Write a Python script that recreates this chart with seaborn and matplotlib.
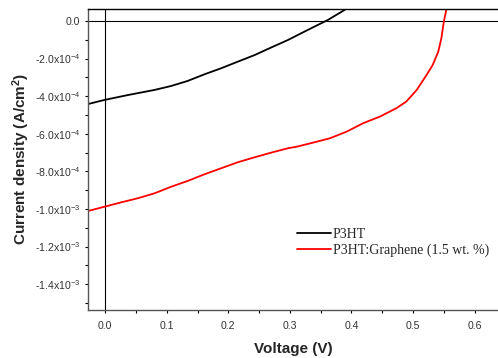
import numpy as np
import pandas as pd
import matplotlib
matplotlib.use("Agg")
import matplotlib.pyplot as plt
import seaborn as sns
from matplotlib.ticker import MultipleLocator, FixedLocator

sns.set_style("white")
plt.rcParams['font.family'] = ['Liberation Sans', 'DejaVu Sans']
plt.rcParams['mathtext.default'] = 'regular'

# Data
v_p3ht = [-0.028, -0.001, 0.037, 0.080, 0.107, 0.134, 0.161, 0.188, 0.215, 0.243,
          0.269, 0.297, 0.324, 0.351, 0.3615, 0.389]
j_p3ht = [-4.42e-4, -4.20e-4, -3.94e-4, -3.67e-4, -3.46e-4, -3.19e-4, -2.84e-4,
          -2.52e-4, -2.17e-4, -1.81e-4, -1.42e-4, -1.01e-4, -5.6e-5, -1.2e-5,
          5.0e-6, 5.9e-5]

v_gr = [-0.028, -0.001, 0.026, 0.053, 0.080, 0.107, 0.134, 0.161, 0.188, 0.215,
        0.243, 0.269, 0.297, 0.311, 0.338, 0.365, 0.392, 0.419, 0.446, 0.473,
        0.489, 0.506, 0.522, 0.532, 0.541, 0.546, 0.550, 0.554]
j_gr = [-1.011e-3, -9.88e-4, -9.65e-4, -9.43e-4, -9.17e-4, -8.82e-4, -8.51e-4,
        -8.16e-4, -7.84e-4, -7.52e-4, -7.25e-4, -7.01e-4, -6.77e-4, -6.69e-4,
        -6.47e-4, -6.24e-4, -5.89e-4, -5.44e-4, -5.09e-4, -4.64e-4, -4.29e-4,
        -3.67e-4, -2.87e-4, -2.34e-4, -1.63e-4, -9.2e-5, -4.0e-6, 5.9e-5]

series_names = ["P3HT", "P3HT:Graphene (1.5 wt. %)"]
y_ticks = [0.0, -2e-4, -4e-4, -6e-4, -8e-4, -1.0e-3, -1.2e-3, -1.4e-3]
y_ticklabels = ["0.0", "-2.0x10$^{-4}$", "-4.0x10$^{-4}$", "-6.0x10$^{-4}$",
                "-8.0x10$^{-4}$", "-1.0x10$^{-3}$", "-1.2x10$^{-3}$", "-1.4x10$^{-3}$"]
x_ticks = [0.0, 0.1, 0.2, 0.3, 0.4, 0.5, 0.6]
x_ticklabels = ["0.0", "0.1", "0.2", "0.3", "0.4", "0.5", "0.6"]

df = pd.concat([
    pd.DataFrame({"V": v_p3ht, "J": j_p3ht, "sample": series_names[0]}),
    pd.DataFrame({"V": v_gr, "J": j_gr, "sample": series_names[1]}),
], ignore_index=True)

fig = plt.figure(figsize=(4.98, 3.58), dpi=100)
ax = fig.add_axes([88/498, 1-309.5/358, 1-88/498, (309.5-9.3)/358])

sns.lineplot(data=df, x="V", y="J", hue="sample", sort=False, estimator=None,
             palette={series_names[0]: "black", series_names[1]: "#ff0000"},
             linewidth=1.3, ax=ax)

ax.axhline(0, color="black", lw=0.8, zorder=0)
ax.axvline(0, color="black", lw=0.8, zorder=0)

ax.set_xlim(-0.028, 0.638)
ax.set_ylim(-1.535e-3, 6.2e-5)

ax.yaxis.set_major_locator(FixedLocator(y_ticks))
ax.set_yticklabels(y_ticklabels)
ax.yaxis.set_minor_locator(MultipleLocator(1e-4))
ax.xaxis.set_major_locator(FixedLocator(x_ticks))
ax.set_xticklabels(x_ticklabels)
ax.xaxis.set_minor_locator(MultipleLocator(0.05))

ax.tick_params(axis="both", which="both", direction="out", length=2.5, width=0.8,
               colors="black", labelsize=7.6, labelcolor="#333333", pad=3,
               bottom=True, left=True)
ax.tick_params(axis="x", which="major", pad=5.5)

for s in ["left", "bottom"]:
    ax.spines[s].set_color("#555555")
    ax.spines[s].set_linewidth(1.0)
ax.spines["top"].set_color("black")
ax.spines["top"].set_linewidth(1.0)
ax.spines["right"].set_visible(False)

ax.set_xlabel("Voltage (V)", fontsize=11, fontweight="bold", labelpad=8)
ax.set_ylabel("Current density (A/cm$^{2}$)", fontsize=11, fontweight="bold", labelpad=2)

leg = ax.legend(loc="upper left", bbox_to_anchor=(0.497, 0.29), frameon=False,
                prop={"family": "Liberation Serif", "size": 10},
                handlelength=2.4, handletextpad=0.15, labelspacing=0.2,
                borderaxespad=0)

fig.savefig("out.png", dpi=100)
